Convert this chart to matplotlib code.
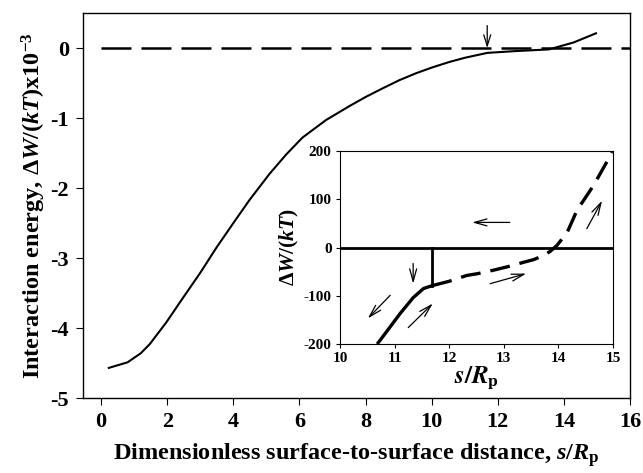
import matplotlib
matplotlib.use("Agg")
import matplotlib.pyplot as plt
import numpy as np

plt.rcParams['font.family'] = ['Liberation Serif', 'DejaVu Serif']
plt.rcParams['font.weight'] = 'bold'
plt.rcParams['axes.unicode_minus'] = False
plt.rcParams['mathtext.fontset'] = 'custom'
plt.rcParams['mathtext.rm'] = 'Liberation Serif:bold'
plt.rcParams['mathtext.bf'] = 'Liberation Serif:bold'
plt.rcParams['mathtext.it'] = 'Liberation Serif:bold:italic'

# Main curve: interaction energy (x1e-3 kT) vs s/Rp
main_x = [0.23, 0.8, 1.2, 1.47, 1.97, 2.43, 3.0, 3.49, 4.0, 4.49, 5.09, 5.6, 6.09,
          6.8, 7.51, 8.0, 8.5, 9.02, 9.53, 10.0, 10.53, 11.0, 11.68, 12.5, 13.55, 14.3, 14.97]
main_y = [-4.57, -4.49, -4.36, -4.23, -3.92, -3.60, -3.21, -2.85, -2.50, -2.17, -1.80, -1.52, -1.28,
          -1.03, -0.83, -0.70, -0.58, -0.46, -0.36, -0.28, -0.20, -0.14, -0.07, -0.045, -0.02, 0.08, 0.21]
ref_x = [0, 16]
ref_y = [0, 0]
main_xticks = [0, 2, 4, 6, 8, 10, 12, 14, 16]
main_yticks = [-5, -4, -3, -2, -1, 0]

# Inset: dW/kT vs s/Rp
inset_zero_x = [10, 15]
inset_zero_y = [0, 0]
jump_x = [11.69, 11.69]
jump_y = [0, -79]
solid_x = [10.68, 10.73, 11.1, 11.34, 11.53, 11.69]
solid_y = [-200, -193, -137, -104, -85, -79]
dash_x = [11.69, 12.0, 12.32, 12.53, 12.85, 13.17, 13.35, 13.55, 13.72, 13.85, 13.97, 14.16, 14.34, 14.64, 14.9, 14.98]
dash_y = [-79, -70, -58, -54, -46, -37, -31, -25, -17, -8, 4, 31, 77, 128, 180, 198]
inset_xticks = [10, 11, 12, 13, 14, 15]
inset_yticks = [-200, -100, 0, 100, 200]

fig = plt.figure(figsize=(6.43, 4.73), dpi=100)
ax = fig.add_axes([83/643, 1-398/473, (630-83)/643, (398-13)/473])
ax.plot(main_x, main_y, color='black', lw=1.5)
ax.plot(ref_x, ref_y, color='black', lw=1.8, dashes=(12, 4))
ax.annotate('', xy=(11.68, -0.04), xytext=(11.68, 0.36),
            arrowprops=dict(arrowstyle='->,head_length=0.8,head_width=0.25', lw=0.9, color='black'))
ax.set_xlim(-0.55, 16)
ax.set_ylim(-5, 0.5)
ax.set_xticks(main_xticks)
ax.set_yticks(main_yticks)
ax.tick_params(direction='out', length=5, width=0.8, labelsize=16, pad=5)
for lbl in ax.get_xticklabels() + ax.get_yticklabels():
    lbl.set_fontweight('bold')
ax.set_xlabel(r'Dimensionless surface-to-surface distance, $s/R_{\mathrm{p}}$', fontsize=17.5, fontweight='bold', labelpad=7)
ax.set_ylabel(r'Interaction energy, $\Delta W/(kT)$x10$^{-3}$', fontsize=17.5, fontweight='bold', labelpad=2)
for s in ax.spines.values():
    s.set_linewidth(1.0)

ins = fig.add_axes([340/643, 1-344/473, (613-340)/643, (344-151)/473])
ins.plot(inset_zero_x, inset_zero_y, color='black', lw=2.0)
ins.plot(jump_x, jump_y, color='black', lw=2.0)
ins.plot(solid_x, solid_y, color='black', lw=2.4, solid_capstyle='butt')
ins.plot(dash_x, dash_y, color='black', lw=2.4, dashes=(6, 3))
ins.set_xlim(10, 15)
ins.set_ylim(-200, 200)
ins.set_xticks(inset_xticks)
ins.set_yticks(inset_yticks)
ins.tick_params(direction='out', length=3, width=0.8, labelsize=11, pad=3)
for lbl in ins.get_xticklabels() + ins.get_yticklabels():
    lbl.set_fontweight('bold')
ins.set_xlabel(r'$s/R_\mathrm{p}$', fontsize=18, fontweight='normal', math_fontfamily='stix', labelpad=0)
ins.set_ylabel(r'$\Delta W/(kT)$', fontsize=15.5, labelpad=2)

arrows = [((13.11, 52), (12.42, 52)),
          ((11.34, -33), (11.34, -75)),
          ((10.92, -99), (10.51, -147)),
          ((11.25, -166), (11.70, -116)),
          ((12.75, -75), (13.41, -54)),
          ((14.52, 39), (14.80, 97))]
for (x0, y0), (x1, y1) in arrows:
    ins.annotate('', xy=(x1, y1), xytext=(x0, y0),
                 arrowprops=dict(arrowstyle='->,head_length=0.9,head_width=0.25', lw=0.9, color='black',
                                 shrinkA=0, shrinkB=0))

fig.savefig('out.png', dpi=100)
